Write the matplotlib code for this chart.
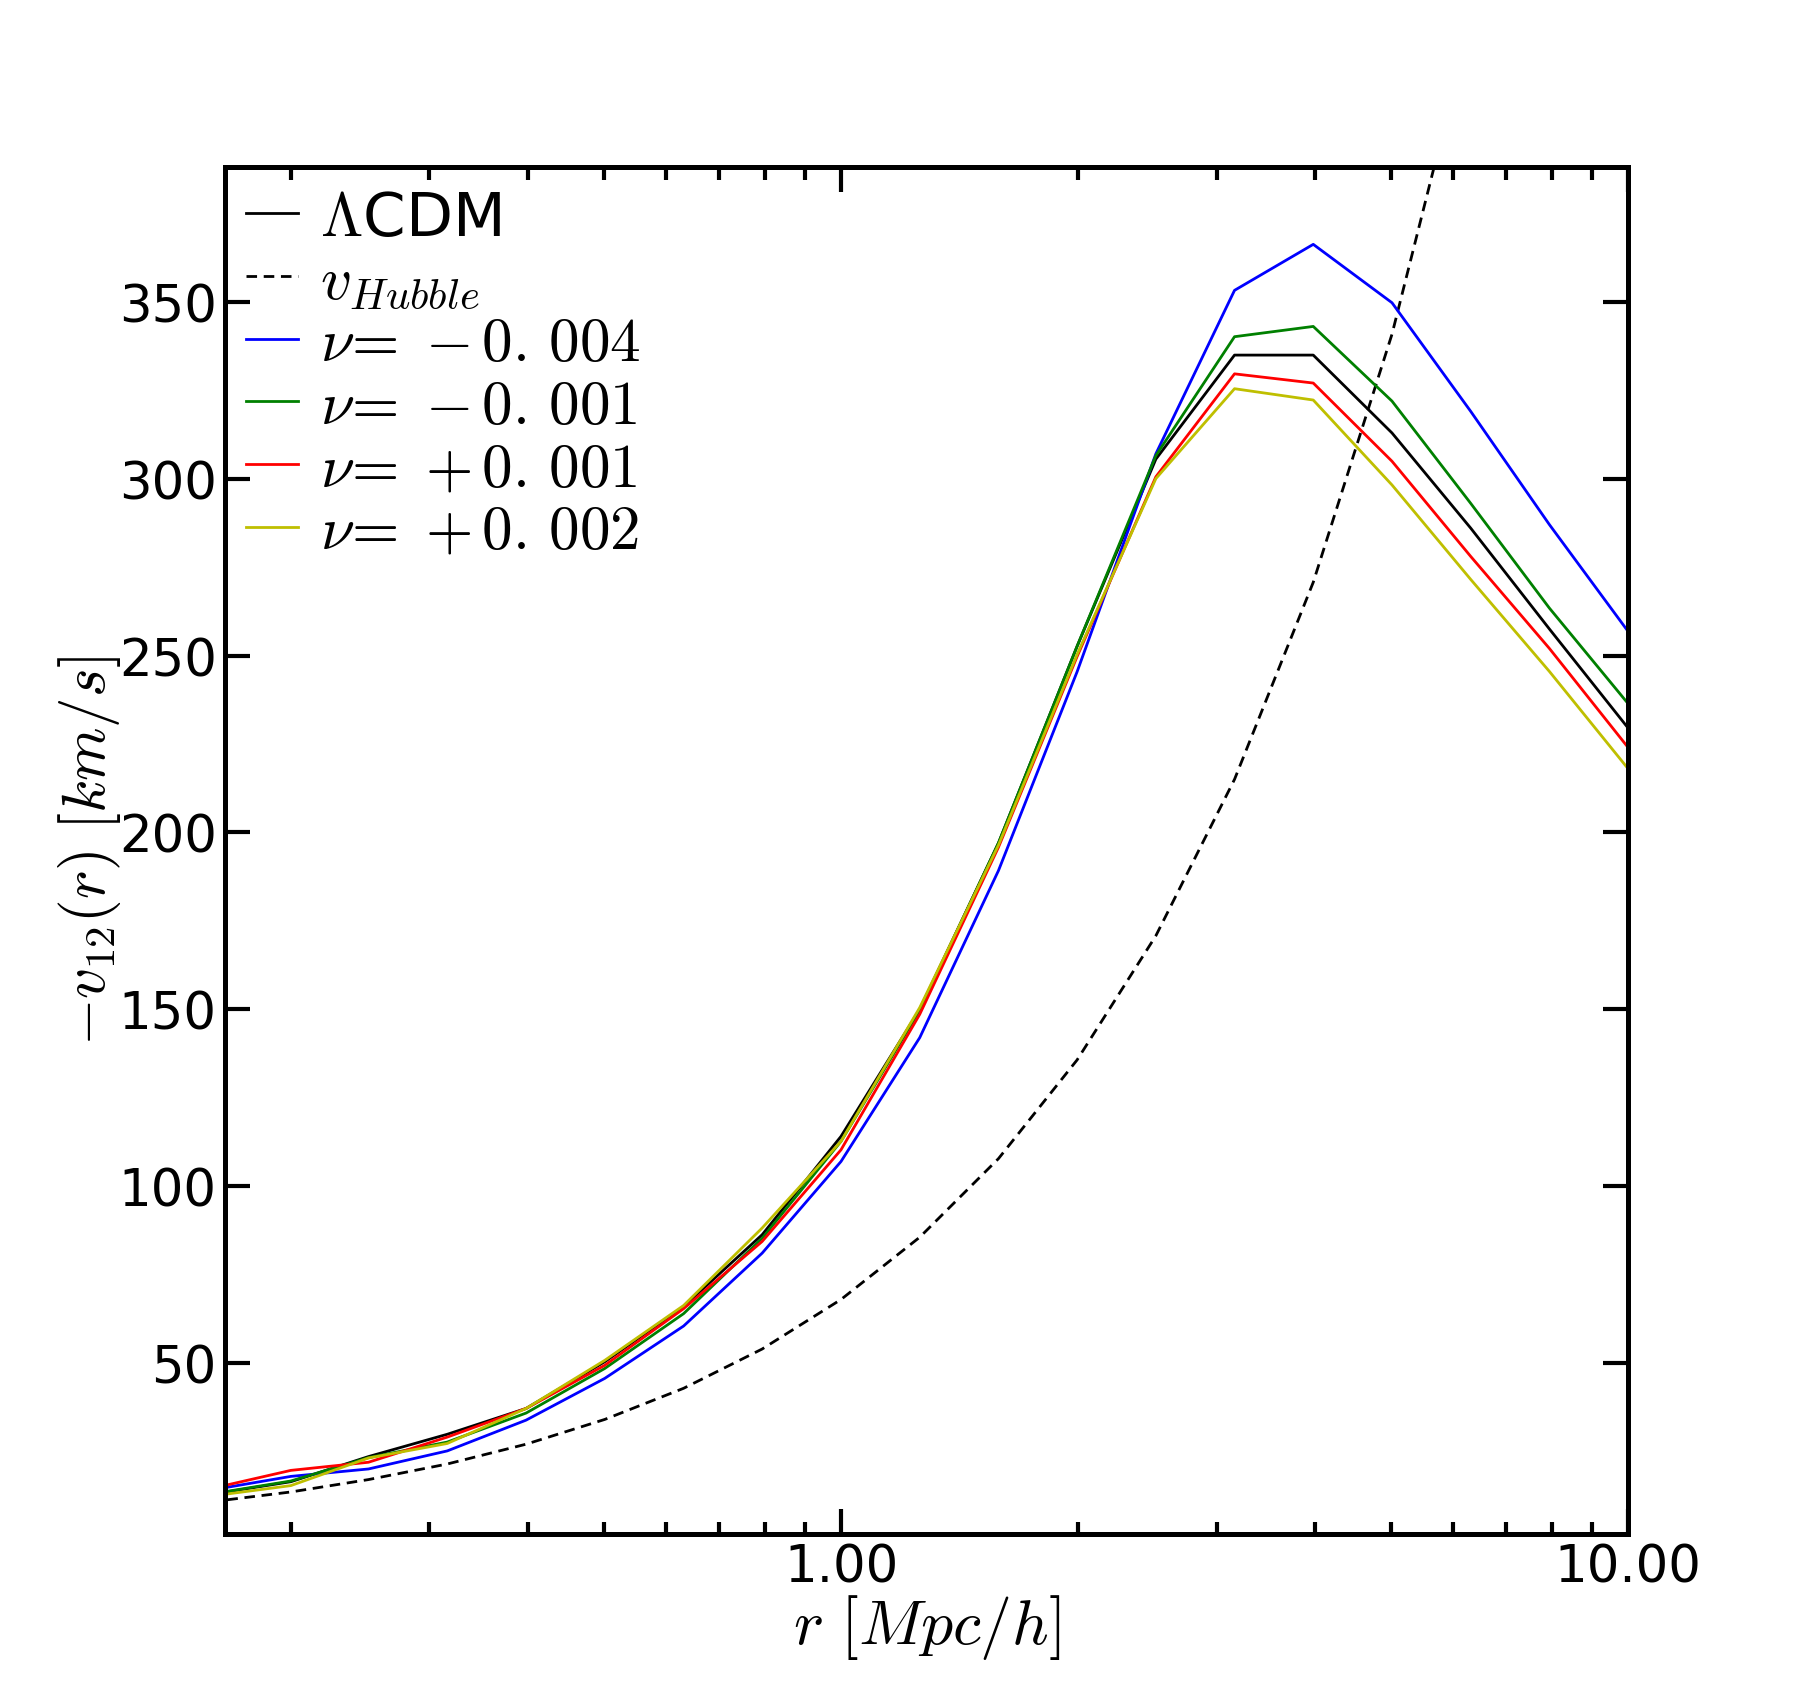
import matplotlib
matplotlib.use('Agg')
import matplotlib.pyplot as plt
from matplotlib.ticker import FormatStrFormatter, NullFormatter, MultipleLocator

plt.rcParams['mathtext.fontset'] = 'cm'
plt.rcParams['font.family'] = ['DejaVu Sans']

# separation bins [Mpc/h]
r = [0.158, 0.2, 0.251, 0.316, 0.398, 0.501, 0.631, 0.794, 1.0, 1.259,
     1.585, 1.995, 2.512, 3.162, 3.981, 5.012, 6.31, 7.943, 10.0]

# Hubble flow reference
v_hubble = [10.8, 13.6, 17.1, 21.5, 27.1, 34.1, 42.9, 54.0, 68.0, 85.6,
            107.8, 135.7, 170.8, 215.0, 270.7, 340.8, 429.1, 540.1, 680.0]

# -v12(r) [km/s]
v_lcdm = [12.9, 16.5, 23.6, 29.9, 37.2, 50.4, 66.0, 86.3, 114.1, 150.0,
          197.0, 252.6, 305.5, 334.9, 334.9, 312.9, 286.0, 257.5, 229.5]
v_m004 = [14.1, 18.0, 20.1, 25.2, 33.9, 45.7, 60.5, 81.1, 107.0, 142.0,
          189.2, 245.4, 307.0, 353.2, 366.2, 349.7, 319.0, 287.0, 256.8]
v_m001 = [13.0, 16.7, 23.3, 27.7, 35.9, 48.5, 64.0, 85.3, 112.7, 149.7,
          197.0, 252.6, 306.5, 340.1, 343.0, 321.9, 293.0, 263.4, 236.4]
v_p001 = [14.5, 19.7, 22.0, 29.1, 37.2, 49.4, 65.4, 84.4, 110.3, 148.6,
          195.8, 249.7, 300.5, 329.6, 327.0, 304.9, 278.0, 252.0, 224.0]
v_p002 = [12.4, 15.4, 23.2, 27.3, 37.2, 50.8, 66.3, 88.2, 112.7, 150.5,
          196.4, 250.3, 300.0, 325.4, 322.2, 298.2, 271.5, 245.5, 218.0]

fig = plt.figure(figsize=(9.04, 8.53), dpi=200)
ax = fig.add_axes([0.1245, 0.1004, 0.776, 0.801])

ax.plot(r, v_lcdm, color='k', lw=1, label=r'$\Lambda$CDM')
ax.plot(r, v_hubble, color='k', lw=1, dashes=(3.8, 2.4), label=r'$v_{Hubble}$')
ax.plot(r, v_m004, color=(0, 0, 1), lw=1, label=r'$\nu\!=\;{-}\,0.\,004$')
ax.plot(r, v_m001, color=(0, 0.5, 0), lw=1, label=r'$\nu\!=\;{-}\,0.\,001$')
ax.plot(r, v_p001, color=(1, 0, 0), lw=1, label=r'$\nu\!=\;{+}\,0.\,001$')
ax.plot(r, v_p002, color=(0.75, 0.75, 0), lw=1, label=r'$\nu\!=\;{+}\,0.\,002$')

ax.set_xscale('log')
ax.set_xlim(0.165, 10)
ax.set_ylim(1.8, 388)
ax.yaxis.set_major_locator(MultipleLocator(50))
ax.xaxis.set_major_formatter(FormatStrFormatter('%.2f'))
ax.xaxis.set_minor_formatter(NullFormatter())

for s in ax.spines.values():
    s.set_linewidth(1.8)
ax.tick_params(which='both', direction='in', top=True, right=True,
               labelsize=18.5, width=1.5)
ax.tick_params(which='major', length=9, pad=3)
ax.tick_params(which='minor', length=4.5)

ax.set_xlabel(r'$r\ [Mpc/h]$', fontsize=23, labelpad=0)
ax.set_ylabel(r'$-v_{12}(r)\ [km/s]$', fontsize=22, labelpad=-1.5)

ax.legend(loc='upper left', frameon=False, fontsize=22, handlelength=0.85,
          handletextpad=0.35, labelspacing=0.06, borderaxespad=0.15,
          borderpad=0.2)

fig.savefig('out.png', dpi=200)
